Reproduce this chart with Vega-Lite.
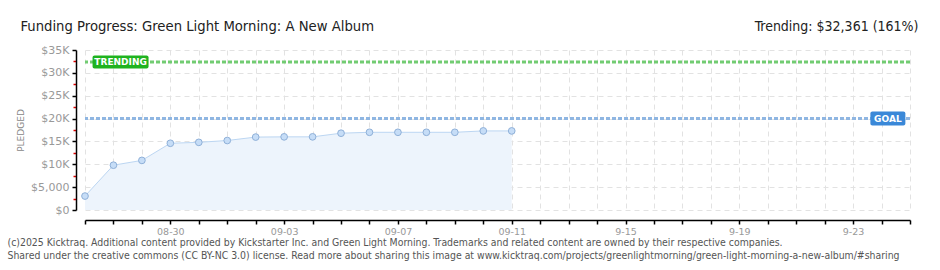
{
  "$schema": "https://vega.github.io/schema/vega-lite/v6.json",
  "width": 825,
  "height": 160,
  "autosize": {"type": "none"},
  "padding": {"left": 85, "top": 50, "right": 30, "bottom": 60},
  "background": "white",
  "config": {"view": {"stroke": null}, "font": "DejaVu Sans"},
  "datasets": {
    "pledges": [
      {"date": "2025-08-27", "pledged": 3050},
      {"date": "2025-08-28", "pledged": 9800},
      {"date": "2025-08-29", "pledged": 10850},
      {"date": "2025-08-30", "pledged": 14600},
      {"date": "2025-08-31", "pledged": 14800},
      {"date": "2025-09-01", "pledged": 15200},
      {"date": "2025-09-02", "pledged": 15950},
      {"date": "2025-09-03", "pledged": 16000},
      {"date": "2025-09-04", "pledged": 16000},
      {"date": "2025-09-05", "pledged": 16800},
      {"date": "2025-09-06", "pledged": 17000},
      {"date": "2025-09-07", "pledged": 17000},
      {"date": "2025-09-08", "pledged": 17000},
      {"date": "2025-09-09", "pledged": 17000},
      {"date": "2025-09-10", "pledged": 17300},
      {"date": "2025-09-11", "pledged": 17300}
    ],
    "goal": [{"amount": 20000}],
    "trending": [{"amount": 32361}],
    "labels": [
      {"label": "TRENDING", "date": "2025-08-28T06:00:00Z", "amount": 32361},
      {"label": "GOAL", "date": "2025-09-24T05:20:00Z", "amount": 20000}
    ]
  },
  "resolve": {"axis": {"x": "independent", "y": "independent"}},
  "layer": [
    {
      "data": {"name": "pledges"},
      "mark": {"type": "area", "color": "#edf4fc"},
      "encoding": {
        "x": {
          "field": "date", "type": "temporal",
          "scale": {"type": "utc", "domain": [{"year": 2025, "month": 8, "date": 27, "utc": true}, {"year": 2025, "month": 9, "date": 25, "utc": true}]},
          "axis": {
            "orient": "bottom",
            "offset": 10,
            "tickCount": {"interval": "day", "step": 1},
            "labelExpr": "round((datum.value - utc(2025,7,27))/86400000) % 4 == 3 ? (round((datum.value - utc(2025,7,27))/86400000) < 17 ? utcFormat(datum.value, '%m-%d') : utcFormat(datum.value, '%-m-%d')) : ''",
            "labelColor": "#999999",
            "labelFontSize": 9.5,
            "labelPadding": 2,
            "labelOverlap": false,
            "labelFlush": false,
            "domainColor": "#000000",
            "domainWidth": 1.5,
            "tickColor": "#000000",
            "tickSize": 4,
            "tickWidth": 1.5,
            "grid": true,
            "gridColor": "#e2e2e2",
            "gridDash": [5, 4],
            "title": ["(c)2025 Kicktraq. Additional content provided by Kickstarter Inc. and Green Light Morning. Trademarks and related content are owned by their respective companies.", "Shared under the creative commons (CC BY-NC 3.0) license. Read more about sharing this image at www.kicktraq.com/projects/greenlightmorning/green-light-morning-a-new-album/#sharing"],
            "titleX": -78,
            "titleY": 25,
            "titleAlign": "left",
            "titleAnchor": "start",
            "titleBaseline": "alphabetic",
            "titleFont": "DejaVu Sans Condensed",
            "titleFontSize": 10.4,
            "titleFontWeight": "normal",
            "titleColor": "#555555",
            "titleLineHeight": 13
          }
        },
        "y": {
          "field": "pledged", "type": "quantitative",
          "scale": {"domain": [0, 35000], "nice": false},
          "axis": {
            "orient": "left",
            "offset": 9,
            "values": [0, 2500, 5000, 7500, 10000, 12500, 15000, 17500, 20000, 22500, 25000, 27500, 30000, 32500, 35000],
            "labelExpr": "datum.value % 5000 != 0 ? '' : datum.value == 0 ? '$0' : datum.value == 5000 ? '$5,000' : '$' + (datum.value/1000) + 'K'",
            "labelColor": "#999999",
            "labelFontSize": 11,
            "labelPadding": 3,
            "labelOverlap": false,
            "domainColor": "#000000",
            "domainWidth": 1.5,
            "tickColor": {"condition": {"test": "datum.value % 5000 != 0", "value": "#e00000"}, "value": "#000000"},
            "tickSize": {"condition": {"test": "datum.value % 5000 != 0", "value": 3}, "value": 4},
            "tickWidth": 1.5,
            "grid": true,
            "gridColor": "#e2e2e2",
            "gridDash": [5, 4],
            "gridOpacity": {"condition": {"test": "datum.value % 5000 != 0", "value": 0}, "value": 1},
            "title": "PLEDGED",
            "titleX": -56,
            "titleY": 80,
            "titleAngle": -90,
            "titleAlign": "center",
            "titleBaseline": "middle",
            "titleFontSize": 9,
            "titleFontWeight": "normal",
            "titleColor": "#888888"
          }
        }
      }
    },
    {
      "data": {"name": "pledges"},
      "mark": {"type": "line", "color": "#bcd6f2", "strokeWidth": 1},
      "encoding": {
        "x": {"field": "date", "type": "temporal", "axis": null},
        "y": {"field": "pledged", "type": "quantitative", "axis": null}
      }
    },
    {
      "data": {"name": "goal"},
      "mark": {"type": "rule", "color": "#8fb6e2", "strokeWidth": 3, "strokeDash": [4, 2]},
      "encoding": {"y": {"field": "amount", "type": "quantitative", "axis": null}}
    },
    {
      "data": {"name": "trending"},
      "mark": {"type": "rule", "color": "#72cc72", "strokeWidth": 3, "strokeDash": [4, 2]},
      "encoding": {"y": {"field": "amount", "type": "quantitative", "axis": null}}
    },
    {
      "data": {"name": "pledges"},
      "mark": {"type": "point", "filled": true, "fill": "#c6ddf7", "stroke": "#8fb0d8", "strokeWidth": 1, "size": 45, "opacity": 1},
      "encoding": {
        "x": {"field": "date", "type": "temporal", "axis": null},
        "y": {"field": "pledged", "type": "quantitative", "axis": null}
      }
    },
    {
      "data": {"name": "labels"},
      "transform": [{"filter": "datum.label == 'TRENDING'"}],
      "mark": {"type": "rect", "width": 56, "height": 13, "cornerRadius": 2, "color": "#1fb31f"},
      "encoding": {
        "x": {
          "field": "date", "type": "temporal",
          "axis": {
            "orient": "top", "domain": false, "ticks": false, "labels": false, "grid": false,
            "title": "Funding Progress: Green Light Morning: A New Album",
            "titleX": -65, "titleY": -20, "titleAlign": "left", "titleAnchor": "start", "titleBaseline": "alphabetic",
            "titleFont": "DejaVu Sans Condensed", "titleFontSize": 14.7, "titleFontWeight": "normal", "titleColor": "#222222"
          }
        },
        "y": {
          "field": "amount", "type": "quantitative",
          "axis": {
            "orient": "right", "domain": false, "ticks": false, "labels": false, "grid": false,
            "title": "Trending: $32,361 (161%)",
            "titleX": 8, "titleY": -20, "titleAngle": 0, "titleAlign": "right", "titleBaseline": "alphabetic",
            "titleFont": "DejaVu Sans Condensed", "titleFontSize": 14, "titleFontWeight": "normal", "titleColor": "#222222"
          }
        }
      }
    },
    {
      "data": {"name": "labels"},
      "transform": [{"filter": "datum.label == 'GOAL'"}],
      "mark": {"type": "rect", "width": 35, "height": 14, "cornerRadius": 2, "color": "#3a88d8"},
      "encoding": {
        "x": {"field": "date", "type": "temporal", "axis": null},
        "y": {"field": "amount", "type": "quantitative", "axis": null}
      }
    },
    {
      "data": {"name": "labels"},
      "mark": {"type": "text", "color": "white", "fontSize": 9, "fontWeight": "bold", "align": "center", "baseline": "middle"},
      "encoding": {
        "x": {"field": "date", "type": "temporal", "axis": null},
        "y": {"field": "amount", "type": "quantitative", "axis": null},
        "text": {"field": "label"}
      }
    }
  ]
}
